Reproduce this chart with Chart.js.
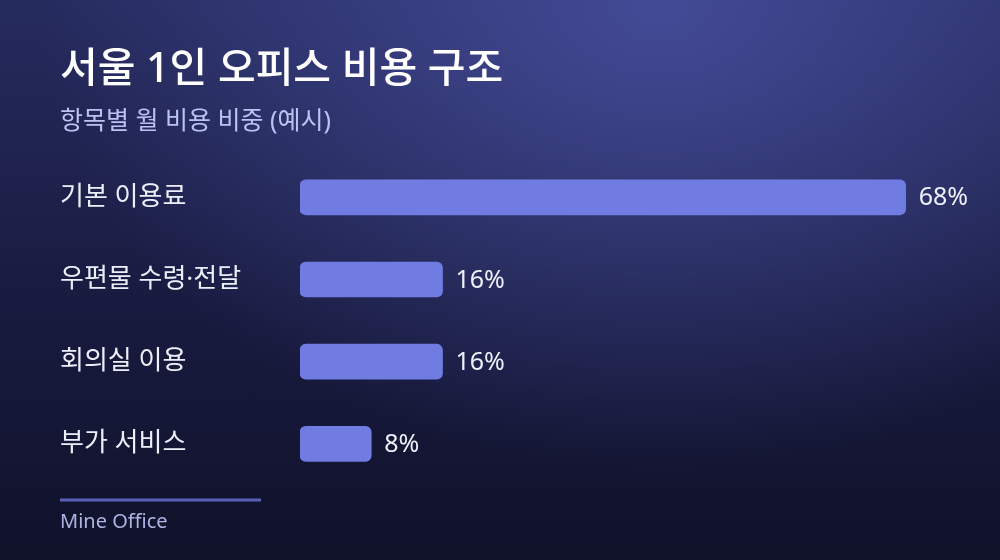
<!DOCTYPE html>
<html lang="ko">
<head>
<meta charset="utf-8">
<script src="https://cdn.jsdelivr.net/npm/chart.js@4"></script>
<style>
  html, body { margin: 0; padding: 0; }
  body {
    width: 1000px;
    height: 560px;
    overflow: hidden;
    background:
      radial-gradient(ellipse 620px 460px at 660px 10px, rgba(72, 80, 160, 0.85), rgba(72, 80, 160, 0) 100%),
      linear-gradient(180deg, #262b5e 0%, #181b3f 55%, #10122a 100%);
  }
  #wrap { position: relative; width: 1000px; height: 560px; }
</style>
</head>
<body>
<div id="wrap"><canvas id="chartCost"></canvas></div>
<script>
// data
const categories = ["기본 이용료", "우편물 수령·전달", "회의실 이용", "부가 서비스"];
const shareValues = [68, 16, 16, 8];
const titleText = "서울 1인 오피스 비용 구조";
const subtitleText = "항목별 월 비용 비중 (예시)";
const footerText = "Mine Office";

const fontFamily = '"Noto Sans", "Noto Sans CJK KR", sans-serif';

// value labels at bar ends
const valueLabels = {
  id: "valueLabels",
  afterDatasetsDraw(chart) {
    const ctx = chart.ctx;
    const meta = chart.getDatasetMeta(0);
    ctx.save();
    ctx.font = `400 25px ${fontFamily}`;
    ctx.fillStyle = "#eef0fb";
    ctx.textAlign = "left";
    ctx.textBaseline = "middle";
    meta.data.forEach((bar, i) => {
      ctx.fillText(shareValues[i] + "%", bar.x + 13, bar.y + 1);
    });
    ctx.restore();
  },
};

// footer line + source text
const footer = {
  id: "footer",
  afterDraw(chart) {
    const ctx = chart.ctx;
    ctx.save();
    ctx.strokeStyle = "#5b60b6";
    ctx.lineWidth = 3;
    ctx.beginPath();
    ctx.moveTo(60, 500);
    ctx.lineTo(261, 500);
    ctx.stroke();
    ctx.font = `400 20px ${fontFamily}`;
    ctx.fillStyle = "#aeb3e2";
    ctx.textBaseline = "middle";
    ctx.fillText(footerText, 60, 522);
    ctx.restore();
  },
};

const chartCostElement = document.querySelector("#chartCost");

new Chart(chartCostElement, {
  type: "bar",
  data: {
    labels: categories,
    datasets: [
      {
        label: "비중",
        data: shareValues,
        backgroundColor: "#717ce3",
        borderRadius: 6,
        borderSkipped: false,
        barThickness: 35,
      },
    ],
  },
  options: {
    indexAxis: "y",
    responsive: true,
    maintainAspectRatio: false,
    animation: false,
    layout: {
      padding: { top: 46, left: 60, right: 32, bottom: 75 },
    },
    scales: {
      x: {
        display: false,
        min: 0,
        max: 75,
      },
      y: {
        grid: { display: false },
        border: { display: false },
        afterFit: (scale) => {
          scale.width = 240;
        },
        ticks: {
          crossAlign: "far",
          color: "#eceefa",
          padding: 0,
          font: { family: fontFamily, size: 26, weight: "400" },
        },
      },
    },
    plugins: {
      legend: { display: false },
      tooltip: { enabled: false },
      title: {
        display: true,
        text: titleText,
        align: "start",
        color: "#ffffff",
        font: { family: fontFamily, size: 41, weight: "500", lineHeight: 1.2 },
        padding: { top: 0, bottom: 12 },
      },
      subtitle: {
        display: true,
        text: subtitleText,
        align: "start",
        color: "#bcc3f2",
        font: { family: fontFamily, size: 25, weight: "400", lineHeight: 1.2 },
        padding: { top: 0, bottom: 19 },
      },
    },
  },
  plugins: [valueLabels, footer],
});
</script>
</body>
</html>
